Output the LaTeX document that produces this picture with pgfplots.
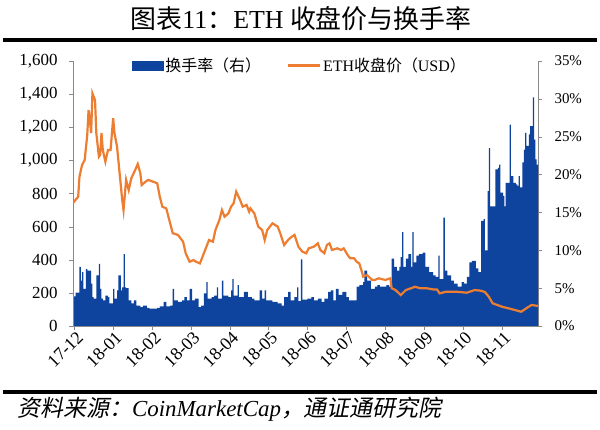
\documentclass[border=0pt]{standalone}
\usepackage{fontspec}
\setmainfont{Liberation Serif}
\newfontfamily\cjk{Noto Sans CJK SC}
\newfontfamily\cjkit[FakeSlant=0.2]{Noto Sans CJK SC}
\usepackage{pgfplots}
\pgfplotsset{compat=1.18}
\definecolor{barblue}{RGB}{14,68,158}
\definecolor{lineorange}{RGB}{237,125,49}
\definecolor{axgray}{RGB}{137,137,137}

\begin{document}
\begin{tikzpicture}[x=1bp,y=1bp]
\path[use as bounding box] (0,0) rectangle (600,429);
% title and rules
\node at (301,410) {\fontsize{26}{26}\selectfont{\cjk 图表}11{\cjk ：}ETH {\cjk 收盘价与换手率}};
\fill (3,387) rectangle (597,391.5);
\fill (3,35) rectangle (597,39.5);
\node[anchor=west] at (14,20) {\fontsize{23}{23}\selectfont{\cjkit 资料来源：}\textit{CoinMarketCap}{\cjkit ，通证通研究院}};

% turnover (right axis)
\begin{axis}[
  at={(73bp,103bp)}, anchor=south west,
  scale only axis, width=465bp, height=265bp,
  xmin=0, xmax=359, ymin=0, ymax=35,
  axis x line=none,
  axis y line*=right,
  y axis line style={axgray,-},
  ytick={0,5,...,35},
  yticklabel={\pgfmathprintnumber{\tick}\%},
  tick align=outside,
  major tick length=4bp,
  major tick style={axgray},
  yticklabel style={font=\fontsize{15}{15}\selectfont, xshift=9bp},
  /pgf/number format/assume math mode=true,
]
\addplot[fill=barblue, draw=none, const plot] coordinates {
(0,3.9) (2,4.4) (5,7.8) (6,6.0) (7,7.1) (8,4.9) (10,7.5) (11,7.3) (14,5.6) (15,3.8)
(16,3.6) (18,6.7) (20,8.2) (21,4.9) (22,3.6) (23,3.4) (25,4.0) (27,3.8) (28,3.0) (31,4.9)
(32,3.6) (34,4.7) (35,6.7) (37,4.7) (38,5.1) (39,9.5) (40,5.1) (41,5.0) (43,3.4) (45,3.0)
(47,3.4) (49,2.7) (52,2.5) (54,2.7) (57,2.4) (59,2.3) (62,2.3) (65,2.4) (67,2.6) (70,3.2)
(72,2.6) (75,2.7) (77,4.9) (78,3.4) (81,3.2) (84,3.4) (86,3.8) (88,3.4) (90,4.9) (92,3.4)
(94,3.6) (97,2.5) (99,2.7) (101,4.3) (103,5.8) (104,3.6) (107,3.8) (109,4.0) (111,5.1) (112,3.6)
(115,6.0) (116,4.0) (120,3.8) (122,4.7) (123,6.2) (124,4.0) (127,5.4) (128,3.8) (132,4.5) (135,3.8)
(138,3.6) (140,3.4) (144,4.7) (146,3.6) (148,4.7) (149,3.4) (154,3.2) (158,3.0) (161,2.7) (163,3.8)
(166,4.5) (168,3.4) (171,3.8) (173,5.1) (174,3.3) (176,8.8) (177,3.5) (181,3.6) (184,3.8) (186,3.4)
(189,3.6) (192,3.2) (194,3.6) (197,4.5) (199,4.7) (201,3.4) (203,4.9) (205,4.1) (208,4.5) (211,3.8)
(213,3.4) (216,3.4) (219,5.2) (221,5.4) (224,5.8) (225,7.3) (227,6.0) (230,4.9) (233,5.2) (235,5.4)
(237,5.2) (239,5.2) (242,5.4) (244,5.2) (246,8.9) (248,7.8) (250,7.3) (252,7.8) (253,9.1) (254,12.4)
(255,7.8) (257,8.9) (259,9.5) (261,7.8) (262,12.4) (263,8.4) (265,9.3) (267,9.5) (270,9.7) (272,7.8)
(275,7.1) (278,6.7) (280,6.5) (282,9.3) (283,6.2) (286,14.3) (287,7.3) (289,6.7) (292,6.0) (294,5.6)
(297,5.2) (300,5.8) (302,5.6) (304,6.5) (306,8.4) (308,8.6) (311,7.6) (313,7.1) (315,13.9) (317,14.1)
(318,10.0) (320,17.8) (321,23.5) (322,15.8) (324,15.8) (326,20.7) (328,20.9) (329,21.3) (330,17.6) (332,17.2)
(333,15.8) (334,18.9) (336,18.9) (337,26.6) (338,19.8) (340,18.9) (342,18.7) (343,18.5) (344,19.8) (345,18.3)
(347,21.6) (348,23.3) (349,25.5) (350,23.8) (352,25.3) (353,26.4) (355,30.2) (356,24.6) (357,22.0) (358,21.3)
(359,21.3)
} \closedcycle;
\end{axis}

% price (left axis)
\begin{axis}[
  at={(73bp,103bp)}, anchor=south west,
  scale only axis, width=465bp, height=265bp,
  xmin=0, xmax=359, ymin=0, ymax=1600,
  axis x line*=bottom,
  axis y line*=left,
  x axis line style={axgray,-},
  y axis line style={axgray,-},
  xtick={1,31,...,331},
  xticklabels={17-12,18-01,18-02,18-03,18-04,18-05,18-06,18-07,18-08,18-09,18-10,18-11},
  x tick label style={rotate=45, anchor=north east, font=\fontsize{18}{18}\selectfont,
    inner sep=1bp, xshift=2bp},
  ytick={0,200,...,1600},
  yticklabel style={font=\fontsize{17}{17}\selectfont, xshift=-8bp},
  /pgf/number format/.cd, 1000 sep={,}, assume math mode=true, /pgfplots/.cd,
  tick align=outside,
  major tick length=4bp,
  major tick style={axgray},
  legend columns=2,
  legend style={draw=none, fill=none, at={(0.12,1.027)}, anchor=north west,
    font=\fontsize{16}{16}\selectfont\cjk,
    /tikz/every even column/.append style={column sep=24bp}},
  legend cell align=left,
]
\addlegendimage{legend image code/.code={\fill[barblue] (0bp,-4.5bp) rectangle (31bp,4.5bp);}}
\addlegendentry{换手率（右）}
\addplot[lineorange, line width=2.2bp,
  legend image code/.code={\draw[lineorange, line width=2.2bp] (0bp,0bp) -- (32bp,0bp);}]
coordinates {
(0,742) (4,781) (5,902) (7,972) (9,1002) (11,1153) (12,1304) (13,1244) (14,1165) (15,1405)
(17,1365) (18,1165) (20,1022) (21,1033) (22,1165) (23,1063) (25,992) (27,1063) (29,1063) (31,1254)
(32,1165) (34,1083) (36,922) (38,761) (39,700) (41,882) (43,821) (45,892) (48,942) (50,978)
(52,922) (53,851) (56,871) (58,882) (62,871) (65,862) (67,781) (69,720) (72,710) (75,620)
(77,560) (81,550) (85,509) (87,439) (90,388) (93,398) (95,388) (98,378) (100,418) (103,479)
(105,519) (108,509) (110,580) (113,640) (115,700) (117,660) (120,680) (122,720) (124,741) (126,811)
(129,761) (131,720) (134,731) (136,690) (137,710) (140,680) (143,600) (146,580) (148,519) (150,580)
(154,620) (158,600) (160,560) (163,489) (166,519) (169,540) (171,550) (174,479) (177,449) (180,439)
(182,469) (186,479) (189,499) (191,459) (194,439) (196,489) (198,499) (200,459) (204,469) (207,459)
(209,469) (212,429) (214,409) (217,409) (219,388) (221,378) (223,328) (224,298) (227,308) (231,278)
(233,278) (236,288) (241,278) (245,288) (246,228) (249,217) (253,187) (257,217) (261,228) (264,237)
(268,228) (273,228) (278,221) (281,221) (283,197) (288,207) (296,207) (304,201) (310,217) (315,213)
(318,205) (321,177) (324,137) (331,117) (336,107) (341,97) (346,86) (350,107) (354,127) (359,121)
};
\addlegendentry{\rmfamily ETH{\cjk 收盘价（}USD{\cjk ）}}
\end{axis}
\end{tikzpicture}
\end{document}
